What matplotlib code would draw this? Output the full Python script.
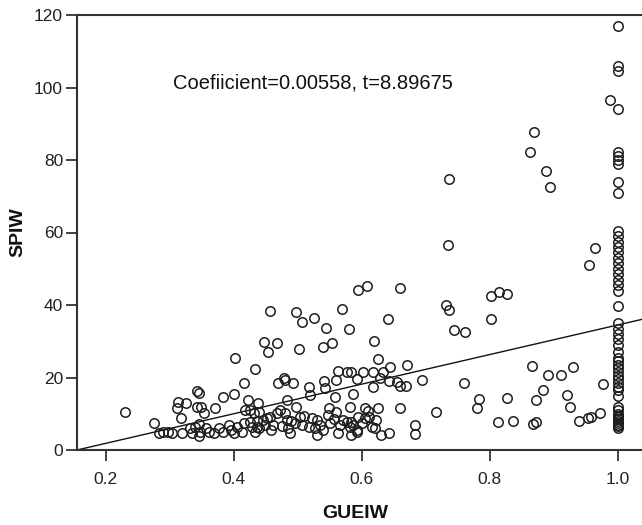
import matplotlib
matplotlib.use("Agg")
import matplotlib.pyplot as plt
import numpy as np

# ---- data ----
gueiw_left = [0.230, 0.275, 0.283, 0.290, 0.298, 0.303, 0.319, 0.313, 0.326, 0.311,
              0.318, 0.342, 0.345, 0.342, 0.349, 0.354, 0.371, 0.383, 0.400, 0.402,
              0.416, 0.434, 0.423, 0.418, 0.426,
              0.332, 0.340, 0.345, 0.348, 0.345, 0.356, 0.361, 0.369, 0.377, 0.384,
              0.392, 0.395, 0.400, 0.405, 0.413, 0.416, 0.426, 0.429, 0.434, 0.335,
              0.437, 0.440]
spiw_left = [10.4, 7.5, 4.7, 4.9, 4.9, 4.7, 4.6, 13.3, 12.9, 11.5,
             8.7, 16.4, 15.8, 11.9, 11.8, 10.1, 11.5, 14.7, 15.4, 25.5,
             18.4, 22.3, 13.8, 11.0, 11.0,
             6.0, 6.4, 7.2, 5.1, 3.9, 6.0, 5.1, 4.6, 6.0, 5.1,
             6.9, 5.5, 4.6, 6.4, 5.1, 7.4, 7.8, 6.4, 5.1, 4.6,
             8.0, 6.0]

gueiw_mid = [0.456, 0.498, 0.507, 0.526, 0.569, 0.545, 0.581, 0.641,
             0.447, 0.467, 0.454, 0.502, 0.539, 0.553, 0.619, 0.625,
             0.595, 0.609, 0.660,
             0.470, 0.478, 0.480, 0.492, 0.518, 0.519, 0.541, 0.543, 0.560, 0.592,
             0.563, 0.577, 0.584, 0.602, 0.618, 0.634, 0.617,
             0.629, 0.643, 0.655, 0.660, 0.669, 0.645, 0.671, 0.695,
             0.558, 0.586, 0.582, 0.605, 0.610, 0.625, 0.660,
             0.549, 0.548, 0.550,
             0.571, 0.577, 0.566, 0.582, 0.587, 0.592, 0.584, 0.595, 0.623, 0.621, 0.616,
             0.563, 0.584, 0.593, 0.631, 0.643, 0.683, 0.683,
             0.438, 0.431, 0.436, 0.446, 0.452, 0.457, 0.449, 0.459, 0.467, 0.472,
             0.483, 0.480, 0.483, 0.485, 0.488, 0.496, 0.498, 0.504, 0.506, 0.517,
             0.522, 0.530, 0.530,
             0.440, 0.462, 0.475, 0.490, 0.510, 0.527, 0.535, 0.540, 0.557, 0.560,
             0.600, 0.605, 0.612]
spiw_mid = [38.4, 38.0, 35.2, 36.5, 38.8, 33.6, 33.3, 36.1,
            29.9, 29.6, 27.0, 28.0, 28.3, 29.4, 30.0, 25.0,
            44.1, 45.2, 44.6,
            18.4, 19.8, 19.3, 18.6, 17.3, 15.2, 19.1, 17.0, 19.3, 19.6,
            21.8, 21.6, 21.6, 21.6, 21.6, 21.5, 17.3,
            19.8, 19.1, 18.8, 17.7, 17.7, 22.8, 23.4, 19.3,
            14.7, 15.4, 11.8, 11.5, 10.8, 11.5, 11.7,
            11.5, 9.7, 7.4,
            8.3, 7.8, 6.9, 6.4, 6.9, 5.5, 7.8, 9.2, 8.3, 6.0, 6.4,
            4.6, 4.1, 5.0, 4.1, 4.6, 6.9, 4.3,
            12.9, 10.1, 6.4, 8.3, 8.7, 9.2, 6.9, 5.5, 10.1, 11.0,
            13.8, 10.1, 8.3, 6.0, 4.6, 7.4, 11.9, 9.2, 6.9, 6.4,
            8.7, 8.3, 4.1,
            10.5, 7.0, 6.5, 8.0, 9.5, 6.0, 7.0, 5.5, 8.5, 10.5,
            7.5, 8.8, 9.0]

gueiw_right = [0.736, 0.735, 0.869, 0.863, 0.888, 0.895, 0.965, 0.956,
               0.802, 0.815, 0.827, 0.802, 0.732, 0.736, 0.745, 0.762,
               0.760, 0.717, 0.784, 0.781, 0.828, 0.813, 0.836,
               0.867, 0.892, 0.911, 0.931, 0.884, 0.873, 0.921, 0.926,
               0.868, 0.872, 0.940, 0.954, 0.958, 0.972, 0.977, 0.989]
spiw_right = [74.8, 56.5, 87.6, 82.1, 76.9, 72.5, 55.8, 51.1,
              42.6, 43.7, 42.9, 36.1, 40.0, 38.6, 33.1, 32.5,
              18.4, 10.4, 14.0, 11.5, 14.4, 7.7, 8.1,
              23.1, 20.7, 20.7, 22.8, 16.6, 13.8, 15.2, 11.8,
              7.2, 7.7, 8.0, 8.7, 9.0, 10.3, 18.2, 96.6]

spiw_at_one = [116.9, 105.9, 104.6, 94.2, 82.3, 81.2, 80.0, 79.0, 74.0, 70.8,
               60.5, 59.0, 57.5, 56.0, 54.5, 53.0, 51.5, 50.0, 48.5, 47.0, 45.5, 44.0,
               39.7,
               35.0, 33.5, 32.0, 30.5, 29.0, 27.0, 25.5, 24.5, 23.5, 22.5, 21.5, 20.5,
               19.5, 18.5, 17.5, 16.5, 15.0, 12.0, 11.0, 10.0, 9.5, 9.0, 8.5, 8.0,
               7.5, 7.0, 6.5, 6.0]

fit_slope = 40.8
fit_intercept = -6.32
annotation = "Coefiicient=0.00558, t=8.89675"

x_ticks = [0.2, 0.4, 0.6, 0.8, 1.0]
x_tick_labels = ["0.2", "0.4", "0.6", "0.8", "1.0"]
y_ticks = [0, 20, 40, 60, 80, 100, 120]

gueiw = np.array(gueiw_left + gueiw_mid + gueiw_right + [1.0] * len(spiw_at_one))
spiw = np.array(spiw_left + spiw_mid + spiw_right + spiw_at_one)

# ---- plot ----
plt.rcParams['font.family'] = ['Liberation Sans', 'DejaVu Sans']
fig = plt.figure(figsize=(6.42, 5.25), dpi=100)
ax = fig.add_axes([77 / 642, 1 - 450 / 525, 1 - 77 / 642, (450 - 15) / 525])

xmin, xmax = 0.155, 1.0383
ax.set_xlim(xmin, xmax)
ax.set_ylim(0, 120)

ax.plot(gueiw, spiw, linestyle='none', marker='o', markersize=6.8,
        markerfacecolor='none', markeredgecolor='#1e1e1e', markeredgewidth=1.1,
        clip_on=False, zorder=3)

xl = np.array([xmin, xmax])
ax.plot(xl, fit_intercept + fit_slope * xl, color='#111111', linewidth=1.0, zorder=2)

for s in ['left', 'bottom', 'top']:
    ax.spines[s].set_color('#333333')
    ax.spines[s].set_linewidth(1.5)
ax.spines['right'].set_visible(False)

ax.set_xticks(x_ticks)
ax.set_xticklabels(x_tick_labels)
ax.set_yticks(y_ticks)
ax.tick_params(axis='both', direction='out', length=8, width=1.3,
               color='#333333', labelsize=12.5, labelcolor='#222222')
ax.tick_params(axis='x', pad=8)
ax.tick_params(axis='y', pad=2)

fig.text(0.4868, 1 - 82.7 / 525, annotation, ha='center', va='center',
         fontsize=14.5, color='#111111')
fig.text(0.028, 1 - 232 / 525, "SPIW", rotation=90, ha='center', va='center',
         fontsize=14, fontweight='bold', color='#111111')
fig.text(0.553, 1 - 513 / 525, "GUEIW", ha='center', va='center',
         fontsize=14, fontweight='bold', color='#111111')

fig.savefig("out.png", dpi=100)
